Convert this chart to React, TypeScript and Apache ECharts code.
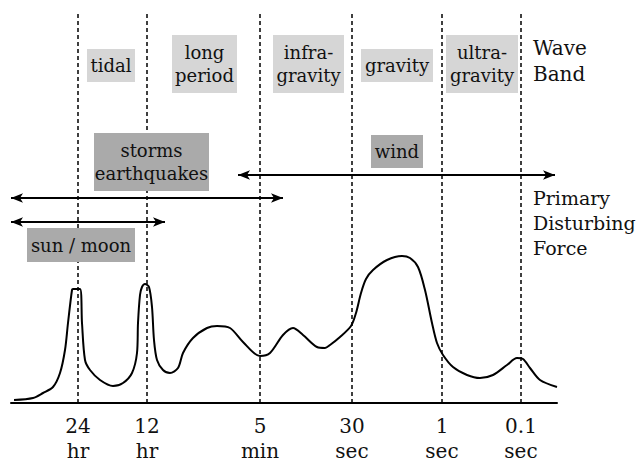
import React, { useEffect, useRef } from "react";
import * as echarts from "echarts";

// Relative position along the (log) period axis, 0..546, and relative energy 0..392
const curveX = [3, 22, 32, 42, 49, 54, 57, 61, 62, 69, 71, 74, 79, 89, 102, 112, 121, 126, 127, 129, 131, 134, 138, 141, 143, 146, 152, 159, 167, 172, 182, 196, 206, 219, 232, 249, 259, 272, 282, 292, 306, 314, 319, 329, 340, 345, 350, 355, 362, 376, 391, 399, 407, 414, 421, 426, 432, 442, 456, 469, 482, 496, 506, 512, 519, 529, 546];
const curveY = [3, 5, 10, 16, 30, 53, 80, 113, 114, 114, 80, 43, 33, 23, 17, 20, 30, 50, 80, 108, 116, 119, 116, 96, 63, 43, 33, 30, 35, 50, 65, 75, 77, 75, 61, 47, 50, 68, 75, 68, 56, 55, 58, 66, 77, 90, 110, 124, 133, 143, 147, 145, 136, 113, 80, 60, 48, 36, 28, 25, 28, 38, 45, 44, 35, 23, 16];

const tickValues = [67, 136, 249, 341, 431, 510];
const tickLabels = ["24\nhr", "12\nhr", "5\nmin", "30\nsec", "1\nsec", "0.1\nsec"];

// Wave band boxes
const bandLabels = ["tidal", "long\nperiod", "infra-\ngravity", "gravity", "ultra-\ngravity"];
const bandX1 = [76, 161, 262, 350, 435];
const bandX2 = [124, 226, 333, 422, 507];
const bandY1 = [321, 310, 310, 321, 310];
const bandY2 = [354, 368, 368, 354, 368];

// Disturbing force boxes
const forceLabels = ["storms\nearthquakes", "wind", "sun / moon"];
const forceX1 = [83, 360, 16];
const forceX2 = [198, 412, 124];
const forceY1 = [212, 235, 141];
const forceY2 = [270, 268, 175];

// Force ranges (double arrows)
const arrowX1 = [227, 0, 0];
const arrowX2 = [544, 272, 154];
const arrowY = [228, 205, 181];

const FONT = "DejaVu Serif";

export default function App() {
  const ref = useRef<HTMLDivElement>(null);
  useEffect(() => {
    if (!ref.current) return;
    const chart = echarts.init(ref.current, undefined, { renderer: "svg" });
    const data = curveX.map((x, i) => [x, curveY[i]]);
    const areaLabel = {
      show: true,
      position: "inside",
      color: "#111",
      fontFamily: FONT,
      fontSize: 18,
      lineHeight: 23,
    };
    const bandAreas = bandLabels.map((l, i) => [
      { name: l, xAxis: bandX1[i], yAxis: bandY1[i], itemStyle: { color: "#d6d6d6" }, label: areaLabel },
      { xAxis: bandX2[i], yAxis: bandY2[i] },
    ]);
    const forceAreas = forceLabels.map((l, i) => [
      { name: l, xAxis: forceX1[i], yAxis: forceY1[i], itemStyle: { color: "#aaaaaa" }, label: areaLabel },
      { xAxis: forceX2[i], yAxis: forceY2[i] },
    ]);
    const dashLines = tickValues.map((v) => ({ xAxis: v }));
    const arrows = arrowX1.map((x, i) => [
      { coord: [x, arrowY[i]] },
      { coord: [arrowX2[i], arrowY[i]] },
    ]);
    chart.setOption({
      animation: false,
      backgroundColor: "#ffffff",
      grid: { left: 11, right: 86, top: 11, bottom: 60 },
      xAxis: {
        type: "value",
        min: 0,
        max: 546,
        axisLine: { show: true, lineStyle: { color: "#000", width: 2 } },
        axisTick: { show: false },
        splitLine: { show: false },
        axisLabel: {
          customValues: tickValues,
          formatter: (v: number) => {
            const i = tickValues.indexOf(v);
            return i >= 0 ? tickLabels[i] : "";
          },
          color: "#111",
          fontFamily: FONT,
          fontSize: 20,
          lineHeight: 25,
          margin: 10,
        },
      },
      yAxis: { type: "value", min: 0, max: 392, show: false },
      series: [
        {
          type: "line",
          data: [],
          z: 1,
          markLine: {
            z: 1,
            silent: true,
            symbol: ["none", "none"],
            label: { show: false },
            lineStyle: { color: "#000", width: 1.5, type: [4, 3] },
            data: dashLines,
          },
        },
        {
          type: "line",
          data: [],
          z: 2,
          markArea: { z: 3, silent: true, data: [...bandAreas, ...forceAreas] },
        },
        {
          type: "line",
          data,
          smooth: 0.3,
          symbol: "none",
          clip: false,
          lineStyle: { color: "#000", width: 2 },
          z: 5,
        },
        {
          type: "line",
          data: [],
          z: 6,
          markLine: {
            z: 6,
            silent: true,
            symbol: ["arrow", "arrow"],
            symbolSize: [7, 12],
            label: { show: false },
            lineStyle: { color: "#000", width: 1.8, type: "solid" },
            data: arrows,
          },
        },
      ],
      graphic: [
        {
          type: "text",
          left: 533,
          top: 35,
          style: { text: "Wave\nBand", fontFamily: FONT, fontSize: 20, lineHeight: 26, fill: "#111" },
        },
        {
          type: "text",
          left: 533,
          top: 185,
          style: { text: "Primary\nDisturbing\nForce", fontFamily: FONT, fontSize: 19, lineHeight: 25, fill: "#111" },
        },
      ],
    });
    return () => chart.dispose();
  }, []);
  return (
    <div ref={ref} style={{ position: "fixed", left: 0, top: 0, width: 643, height: 463, background: "#fff" }} />
  );
}
